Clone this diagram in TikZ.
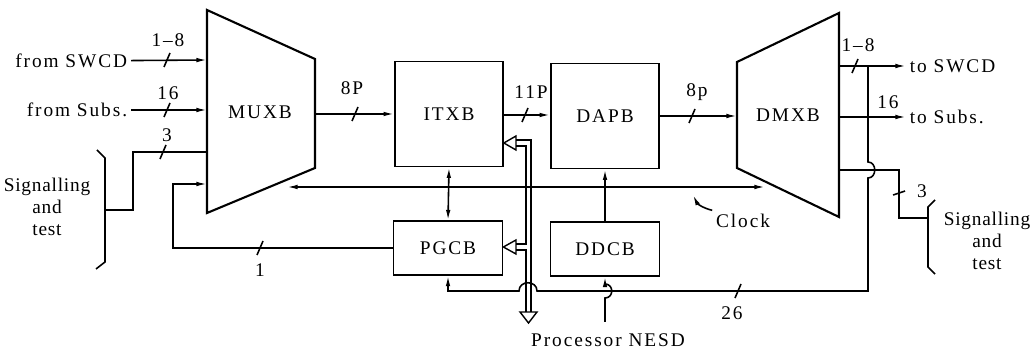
\documentclass[tikz,border=0pt]{standalone}
\usepackage{fontspec}
\setmainfont{Liberation Serif}[LetterSpace = 10]
\newfontfamily\sigfont{Liberation Serif}[LetterSpace = 4]
\usepackage{tikz}
\usetikzlibrary{arrows.meta}
\tikzset{block/.style = {shape = rectangle, draw, line width = 1pt, minimum width = 2.16cm, minimum height = 2.1cm}}
\tikzset{small block/.style = {block, minimum width = 2.18cm, minimum height = 1.07cm}}
\tikzset{wire/.style = {line width = 0.9pt, > = {Latex[length = 6pt, width = 2.6pt]}}}
\tikzset{mux/.style = {draw, line width = 1.2pt, line join = miter}}
\tikzset{bus/.style = {line width = 0.8pt}}
\tikzset{txt/.style = {inner sep = 2pt, align = center}}
\tikzset{sig/.style = {txt, font = \sigfont\fontsize{11}{12.5}\selectfont}}

\begin{document}
\begin{tikzpicture}[x = 0.02cm, y = -0.02cm, font = \fontsize{11}{12.5}\selectfont]
	\useasboundingbox (0, 0) rectangle (1033, 350);

	\draw[mux] (207, 10) -- (315, 59) -- (315, 168) -- (207, 213) -- cycle;
	\node (muxb) at (260, 112) {MUXB};
	\coordinate (mux-swcd) at (207, 60);
	\coordinate (mux-subs) at (207, 110);
	\coordinate (mux-sig) at (207, 152);
	\coordinate (mux-fb) at (207, 184);
	\coordinate (mux-out) at (315, 114);

	\draw[mux] (737, 62) -- (839, 13) -- (839, 217) -- (737, 168) -- cycle;
	\node (dmxb) at (788, 115) {DMXB};
	\coordinate (dmx-in) at (737, 116);
	\coordinate (dmx-swcd) at (839, 66);
	\coordinate (dmx-subs) at (839, 117);
	\coordinate (dmx-sig) at (839, 170);

	\node[block] (itxb) at (449, 114) {ITXB};
	\node[block] (dapb) at (605, 116) {DAPB};
	\node[small block] (pgcb) at (448, 248) {PGCB};
	\node[small block] (ddcb) at (605, 249) {DDCB};

	\node[txt, anchor = east] (fswcd) at (131, 61) {from SWCD};
	\node[txt, anchor = east] (fsubs) at (131, 110) {from Subs.};
	\node[txt, anchor = west] (tswcd) at (906, 66) {to SWCD};
	\node[txt, anchor = west] (tsubs) at (906, 117) {to Subs.};
	\node[sig] (lsig) at (47, 207) {Signalling\\and\\test};
	\node[sig] (rsig) at (987, 241) {Signalling\\and\\test};
	\node[txt] (clock) at (743, 221) {Clock};
	\node[txt] (nesd) at (608, 340) {Processor NESD};

	\node (n18l) at (168, 40) {1--8};
	\node (n16l) at (168, 93) {16};
	\node (n3l) at (167, 135) {3};
	\node (n8p) at (352, 88) {8P};
	\node (n11p) at (531, 92) {11P};
	\node (n8pp) at (697, 92) {8p};
	\node (n18r) at (858, 45) {1--8};
	\node (n16r) at (888, 102) {16};
	\node (n3r) at (922, 191) {3};
	\node (n1) at (260, 270) {1};
	\node (n26) at (732, 313) {26};

	\coordinate (lbrace) at (105, 210);
	\coordinate (rbrace) at (928, 218);
	\coordinate (clk-l) at (287, 187);
	\coordinate (clk-r) at (765, 187);
	\coordinate (clk-tip) at (693, 195);
	\coordinate (junc) at (868, 66);
	\coordinate (nesd-in) at (605, 322);

	\draw[wire, ->] (fswcd) -- (mux-swcd);
	\draw[wire, ->] (fsubs) -- (mux-subs);
	\draw[wire] (lbrace) -| (133, 152) -- (mux-sig);
	\draw[wire] (97, 150) -- (105, 158) -- (105, 262) -- (96, 269);
	\draw[wire, ->] (pgcb.west) -| (173, 184) -- (mux-fb);
	\draw[wire, ->] (mux-out) -- (itxb.west);
	\draw[wire, ->] (itxb.east |- 0, 115) -- (dapb.west |- 0, 115);
	\draw[wire, ->] (dapb.east) -- (dmx-in);
	\draw[wire, <->] (itxb.south) -- (pgcb.north);
	\draw[wire, ->] (ddcb.north) -- (dapb.south);
	\draw[wire, <->] (clk-l) -- (clk-r);
	\draw[wire, ->] (clock.north west) to[bend left = 25] (clk-tip);
	\draw[wire, ->] (dmx-swcd) -- (tswcd);
	\draw[wire, ->] (dmx-subs) -- (tsubs);
	\draw[wire] (dmx-sig) -| (899, 218) -- (rbrace);
	\draw[wire] (935, 200) -- (928, 207) -- (928, 267) -- (935, 274);
	\draw[wire, ->] (junc) -- (868, 162) .. controls (877, 162) and (877, 178) .. (868, 178)
		-- (868, 291) -- (537, 291) .. controls (537, 280) and (519, 280) .. (519, 291) -| (pgcb.south);
	\draw[wire, ->] (nesd-in) -- (605, 298) .. controls (614, 298) and (614, 284) .. (605, 284) -- (ddcb.south);

	\foreach \x/\y in {167/60, 167/110, 163/152, 355/114, 525/115, 692/116, 855/66, 260/248, 738/291}
		\draw[wire] (\x, \y) ++(-3, 7) -- ++(6, -14);
	\draw[wire] (893, 195) -- (905, 191);

	\draw[bus] (531, 312) -- (531, 140) -- (516, 140);
	\draw[bus] (526, 312) -- (526, 250) -- (516, 250);
	\draw[bus] (516, 244) -- (526, 244) -- (526, 146) -- (516, 146);
	\draw[bus] (516, 136) -- (itxb.east |- 0, 143) -- (516, 150) -- cycle;
	\draw[bus] (516, 240) -- (pgcb.east |- 0, 247) -- (516, 254) -- cycle;
	\draw[bus] (520, 312) -- (528.5, 323) -- (537, 312) -- cycle;
\end{tikzpicture}
\end{document}
